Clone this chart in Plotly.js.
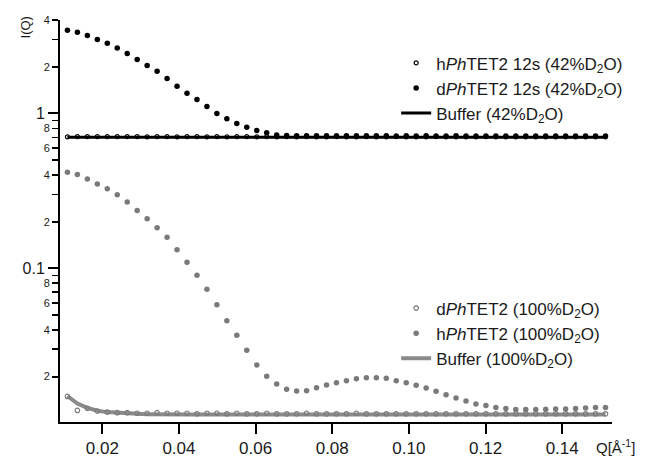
<!DOCTYPE html>
<html>
<head>
<meta charset="utf-8">
<script src="https://cdn.plot.ly/plotly-3.0.1.min.js"></script>
<style>html,body{margin:0;padding:0;background:#fff;}#chart{width:646px;height:457px;}</style>
</head>
<body>
<div id="chart"></div>
<script>
// Scattering vector Q [1/Å]
const Q = [0.0109, 0.0135, 0.0161, 0.0187, 0.0213, 0.0239, 0.0265, 0.0291, 0.0317, 0.0343,
           0.0369, 0.0395, 0.0421, 0.0447, 0.0473, 0.0499, 0.0525, 0.0551, 0.0577, 0.0603,
           0.0629, 0.0655, 0.0681, 0.0707, 0.0733, 0.0759, 0.0785, 0.0811, 0.0837, 0.0863,
           0.0889, 0.0915, 0.0941, 0.0967, 0.0993, 0.1019, 0.1045, 0.1071, 0.1097, 0.1123,
           0.1149, 0.1175, 0.1201, 0.1227, 0.1253, 0.1279, 0.1305, 0.1331, 0.1357, 0.1383,
           0.1409, 0.1435, 0.1461, 0.1487, 0.1513];

// 42% D2O
const hPhTET2_42 = [0.706, 0.709, 0.708, 0.709, 0.708, 0.708, 0.709, 0.708, 0.707, 0.708,
                    0.708, 0.707, 0.708, 0.708, 0.707, 0.708, 0.707, 0.708, 0.708, 0.707,
                    0.708, 0.707, 0.708, 0.707, 0.708, 0.707, 0.707, 0.708, 0.707, 0.707,
                    0.708, 0.707, 0.707, 0.708, 0.707, 0.707, 0.707, 0.708, 0.707, 0.707,
                    0.707, 0.707, 0.708, 0.707, 0.707, 0.707, 0.707, 0.707, 0.707, 0.707,
                    0.707, 0.707, 0.707, 0.707, 0.707];
const dPhTET2_42 = [3.45, 3.35, 3.19, 3.00, 2.84, 2.65, 2.44, 2.23, 2.04, 1.87,
                    1.68, 1.50, 1.35, 1.23, 1.11, 1.00, 0.923, 0.862, 0.816, 0.776,
                    0.750, 0.727, 0.721, 0.719, 0.718, 0.717, 0.718, 0.717, 0.718, 0.717,
                    0.717, 0.718, 0.717, 0.716, 0.717, 0.716, 0.717, 0.716, 0.716, 0.717,
                    0.716, 0.716, 0.716, 0.715, 0.716, 0.716, 0.715, 0.716, 0.715, 0.715,
                    0.716, 0.715, 0.715, 0.715, 0.715];
const buffer_42 = [0.703, 0.703, 0.703, 0.703, 0.703, 0.703, 0.703, 0.703, 0.703, 0.703,
                   0.703, 0.703, 0.703, 0.703, 0.703, 0.703, 0.703, 0.703, 0.703, 0.703,
                   0.703, 0.703, 0.703, 0.703, 0.703, 0.703, 0.703, 0.703, 0.703, 0.703,
                   0.703, 0.703, 0.703, 0.703, 0.703, 0.703, 0.703, 0.703, 0.703, 0.703,
                   0.703, 0.703, 0.703, 0.703, 0.703, 0.703, 0.703, 0.703, 0.703, 0.703,
                   0.703, 0.703, 0.703, 0.703, 0.703];

// 100% D2O
const dPhTET2_100 = [0.0149, 0.0121, 0.0125, 0.0120, 0.0118, 0.0117, 0.0117, 0.0116, 0.0116, 0.0117,
                     0.0116, 0.0116, 0.0116, 0.0115, 0.0116, 0.0116, 0.0115, 0.0116, 0.0115, 0.0115,
                     0.0116, 0.0115, 0.0115, 0.0115, 0.0116, 0.0115, 0.0115, 0.0115, 0.0115, 0.0116,
                     0.0115, 0.0115, 0.0115, 0.0115, 0.0115, 0.0115, 0.0115, 0.0115, 0.0115, 0.0115,
                     0.0115, 0.0115, 0.0115, 0.0115, 0.0115, 0.0115, 0.0115, 0.0115, 0.0115, 0.0115,
                     0.0115, 0.0115, 0.0115, 0.0115, 0.0115];
const hPhTET2_100 = [0.418, 0.404, 0.377, 0.351, 0.326, 0.2985, 0.268, 0.2367, 0.2088, 0.1828,
                     0.1585, 0.1318, 0.1093, 0.0901, 0.0732, 0.0582, 0.0459, 0.0370, 0.0296, 0.0238,
                     0.0201, 0.01794, 0.01657, 0.01616, 0.01623, 0.01698, 0.01766, 0.01828, 0.01884, 0.0194,
                     0.01968, 0.01968, 0.0195, 0.0188, 0.01828, 0.01758, 0.0169, 0.01608, 0.0153, 0.01456,
                     0.01393, 0.01333, 0.0130, 0.01262, 0.01243, 0.01225, 0.01225, 0.01225, 0.01232, 0.01236,
                     0.01236, 0.01243, 0.01255, 0.01262, 0.01262];
const buffer_100 = [0.0150, 0.0134, 0.01256, 0.01205, 0.0118, 0.01165, 0.01157, 0.0115, 0.01145, 0.0114,
                    0.0114, 0.0114, 0.0114, 0.0114, 0.0114, 0.0114, 0.0114, 0.0114, 0.0114, 0.0114,
                    0.0114, 0.0114, 0.0114, 0.0114, 0.0114, 0.0114, 0.0114, 0.0114, 0.0114, 0.0114,
                    0.0114, 0.0114, 0.0114, 0.0114, 0.0114, 0.0114, 0.0114, 0.0114, 0.0114, 0.0114,
                    0.0114, 0.0114, 0.0114, 0.0114, 0.0114, 0.0114, 0.0114, 0.0114, 0.0114, 0.0114,
                    0.0114, 0.0114, 0.0114, 0.0114, 0.0114];

// Axis ticks
const xTickVals = [0.02, 0.04, 0.06, 0.08, 0.10, 0.12, 0.14];
const xTickText = ["0.02", "0.04", "0.06", "0.08", "0.10", "0.12", "0.14"];
const yLabelVals = [0.02, 0.04, 0.06, 0.08, 0.2, 0.4, 0.6, 0.8, 2, 4];
const yLabelText = ["2", "4", "6", "8", "2", "4", "6", "8", "2", "4"];
const yDecadeVals = [0.1, 1];
const yDecadeText = ["0.1", "1"];

const FONT = "Liberation Sans, Arial, sans-serif";
const GREY = "#7a7a7a";

const traces = [
  {x: Q, y: buffer_42, mode: "lines", name: "Buffer (42%D<sub>2</sub>O)",
   line: {color: "#000", width: 3}, legend: "legend", legendrank: 3},
  {x: Q, y: hPhTET2_42, mode: "markers", name: "h<i>Ph</i>TET2 12s (42%D<sub>2</sub>O)",
   marker: {symbol: "circle-open", size: 4, color: "#000", line: {width: 1.2}}, legend: "legend", legendrank: 1},
  {x: Q, y: dPhTET2_42, mode: "markers", name: "d<i>Ph</i>TET2 12s (42%D<sub>2</sub>O)",
   marker: {symbol: "circle", size: 5.5, color: "#000"}, legend: "legend", legendrank: 2},
  {x: Q, y: buffer_100, mode: "lines", name: "Buffer (100%D<sub>2</sub>O)",
   line: {color: "#8a8a8a", width: 4}, legend: "legend2", legendrank: 6},
  {x: Q, y: dPhTET2_100, mode: "markers", name: "d<i>Ph</i>TET2 (100%D<sub>2</sub>O)",
   marker: {symbol: "circle-open", size: 4.5, color: GREY, line: {width: 1.2}}, legend: "legend2", legendrank: 4},
  {x: Q, y: hPhTET2_100, mode: "markers", name: "h<i>Ph</i>TET2 (100%D<sub>2</sub>O)",
   marker: {symbol: "circle", size: 5.5, color: GREY}, legend: "legend2", legendrank: 5},
  {x: [null], y: [null], yaxis: "y2", mode: "markers", showlegend: false, hoverinfo: "skip"}
];

const yRange = [-1.992, 0.6035];
const legendStyle = {font: {family: FONT, size: 17, color: "#1a1a1a"}, bgcolor: "rgba(0,0,0,0)",
                     borderwidth: 0, xanchor: "left", yanchor: "top", itemwidth: 30, tracegroupgap: 0};

const layout = {
  width: 646, height: 457,
  margin: {l: 60, r: 34, t: 20, b: 35},
  paper_bgcolor: "#fff", plot_bgcolor: "#fff",
  font: {family: FONT, color: "#1a1a1a"},
  xaxis: {
    range: [0.00896, 0.153], tickvals: xTickVals, ticktext: xTickText,
    ticks: "outside", ticklen: 10, tickwidth: 2, tickcolor: "#000",
    showline: true, linewidth: 2, linecolor: "#000", showgrid: false, zeroline: false,
    tickfont: {family: FONT, size: 17, color: "#1a1a1a"}
  },
  yaxis: {
    type: "log", range: yRange, tickvals: yLabelVals, ticktext: yLabelText,
    ticks: "outside", ticklen: 6, tickwidth: 1.8, tickcolor: "#000",
    minor: {dtick: "D1", ticks: "outside", ticklen: 6, tickwidth: 1.8, tickcolor: "#000", showgrid: false},
    showline: true, linewidth: 2, linecolor: "#000", showgrid: false, zeroline: false,
    tickfont: {family: FONT, size: 11, color: "#1a1a1a"}
  },
  yaxis2: {
    type: "log", range: yRange, overlaying: "y", side: "left", anchor: "x",
    tickvals: yDecadeVals, ticktext: yDecadeText,
    ticks: "outside", ticklen: 11, tickwidth: 2, tickcolor: "#000",
    showline: false, showgrid: false, zeroline: false,
    tickfont: {family: FONT, size: 16, color: "#1a1a1a"}
  },
  legend: Object.assign({x: 0.609, y: 0.937}, legendStyle),
  legend2: Object.assign({x: 0.609, y: 0.327}, legendStyle),
  annotations: [
    {text: "I(Q)", xref: "paper", yref: "paper", x: -0.063, y: 0.982, showarrow: false,
     textangle: -90, xanchor: "center", yanchor: "middle", font: {family: FONT, size: 13, color: "#1a1a1a"}},
    {text: "Q[Å<sup>-1</sup>]", xref: "paper", yref: "paper", x: 1.006, y: -0.062, showarrow: false,
     xanchor: "center", yanchor: "middle", font: {family: FONT, size: 15, color: "#1a1a1a"}}
  ],
  showlegend: true
};

Plotly.newPlot("chart", traces, layout, {staticPlot: true, displayModeBar: false});
</script>
</body>
</html>
